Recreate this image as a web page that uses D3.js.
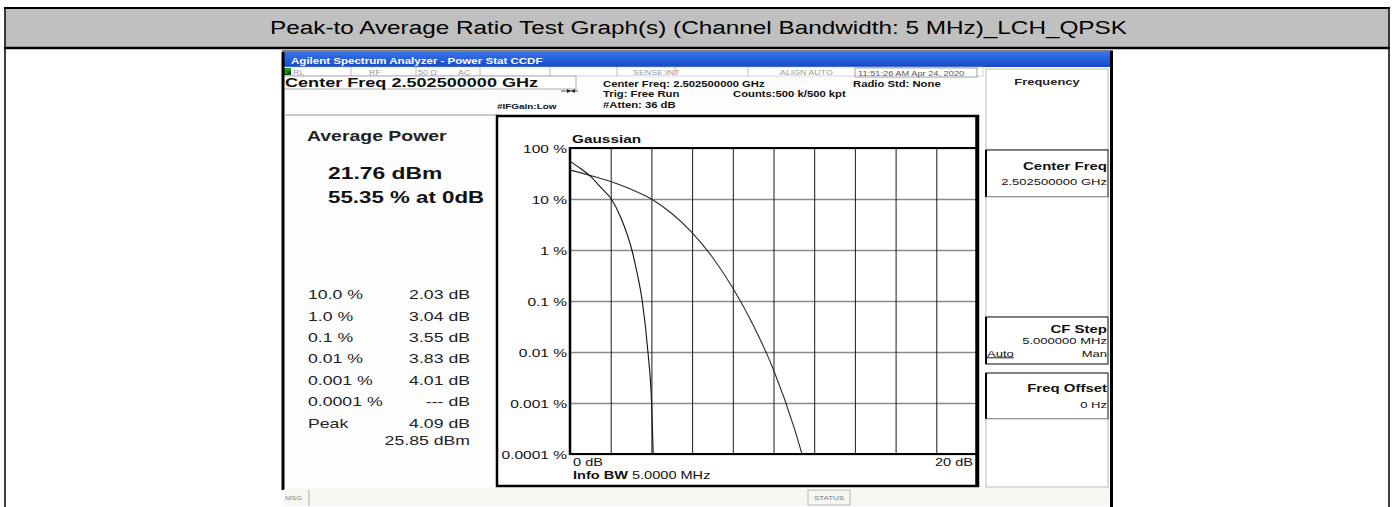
<!DOCTYPE html>
<html>
<head>
<meta charset="utf-8">
<script src="https://cdn.jsdelivr.net/npm/d3@7/dist/d3.min.js"></script>
<style>
html,body{margin:0;padding:0;background:#fff;}
svg{display:block;font-family:"Liberation Sans",Arial,sans-serif;}
</style>
</head>
<body>
<svg id="chart" width="1394" height="507"></svg>
<script>
// ---------------- data ----------------
const pageTitle = "Peak-to Average Ratio Test Graph(s) (Channel Bandwidth: 5 MHz)_LCH_QPSK";
const yTickValues = [100, 10, 1, 0.1, 0.01, 0.001, 0.0001];
const yTickLabels = ["100 %", "10 %", "1 %", "0.1 %", "0.01 %", "0.001 %", "0.0001 %"];
const xGridValues = [2, 4, 6, 8, 10, 12, 14, 16, 18];
const xDomain = [0, 20];
const yDomain = [0.0001, 100];
// measured CCDF trace (dB above average, % probability)
const measuredDb  = [0, 0.5, 1, 1.5, 2.03, 2.5, 3.04, 3.3, 3.55, 3.83, 4.01, 4.09];
const measuredPct = [55.35, 40, 28, 17, 10, 4.3, 1, 0.35, 0.1, 0.01, 0.001, 0.0001];
// Gaussian reference trace
const gaussDb  = [0, 1, 2, 3, 4, 5, 6, 7, 8, 9, 10, 11, 11.4];
const gaussPct = [36.8, 29, 22, 15.5, 10, 5.2, 2.2, 0.72, 0.18, 0.034, 0.0045, 0.00034, 0.0001];
// result table
const statLabels = ["10.0 %", "1.0 %", "0.1 %", "0.01 %", "0.001 %", "0.0001 %", "Peak"];
const statValues = ["2.03 dB", "3.04 dB", "3.55 dB", "3.83 dB", "4.01 dB", "--- dB", "4.09 dB"];
const peakPower = "25.85 dBm";
const avgPower = "21.76 dBm";
const atZero = "55.35 % at 0dB";
// status bar items
const statusItems = ["RL", "RF", "50 Ω", "AC", "SENSE:INT", "ALIGN AUTO"];
const timeStamp = "11:51:26 AM Apr 24, 2020";

// ---------------- drawing ----------------
const svg = d3.select("#chart");
const SX = 1.36; // horizontal stretch of the analyzer screenshot
function T(g, x, y, s, o) {
  o = o || {};
  const t = g.append("text")
    .attr("transform", `translate(${x},${y}) scale(${o.sx || SX},1)`)
    .attr("font-size", o.size || 10)
    .attr("font-weight", o.weight || "normal")
    .attr("text-anchor", o.anchor || "start")
    .attr("fill", o.fill || "#000")
    .text(s);
  if (o.underline) t.attr("text-decoration", "underline");
  return t;
}

// page table
svg.append("rect").attr("x", 5).attr("y", 8).attr("width", 1384).attr("height", 39).attr("fill", "#c0c0c0");
svg.append("line").attr("x1", 4).attr("x2", 1390).attr("y1", 8).attr("y2", 8).attr("stroke", "#000").attr("stroke-width", 2);
svg.append("line").attr("x1", 4).attr("x2", 1390).attr("y1", 48).attr("y2", 48).attr("stroke", "#000").attr("stroke-width", 2.5);
svg.append("line").attr("x1", 5).attr("x2", 5).attr("y1", 8).attr("y2", 507).attr("stroke", "#000").attr("stroke-width", 1.5);
svg.append("line").attr("x1", 1389).attr("x2", 1389).attr("y1", 8).attr("y2", 507).attr("stroke", "#000").attr("stroke-width", 1.5);
svg.append("text").attr("x", 270).attr("y", 34).attr("font-size", 18)
  .attr("textLength", 857).attr("lengthAdjust", "spacingAndGlyphs").text(pageTitle);

// screenshot background
const scr = svg.append("g");
scr.append("rect").attr("x", 282).attr("y", 51).attr("width", 830).attr("height", 456).attr("fill", "#fdfdfd");
scr.append("line").attr("x1", 282).attr("x2", 1113).attr("y1", 51).attr("y2", 51).attr("stroke", "#000").attr("stroke-width", 1);

// title bar
const grad = svg.append("defs").append("linearGradient").attr("id", "tb").attr("x1", 0).attr("x2", 0).attr("y1", 0).attr("y2", 1);
grad.append("stop").attr("offset", "0%").attr("stop-color", "#3a74ea");
grad.append("stop").attr("offset", "100%").attr("stop-color", "#1448c8");
scr.append("rect").attr("x", 282).attr("y", 52).attr("width", 831).attr("height", 15).attr("fill", "url(#tb)");
T(scr, 291, 64, "Agilent Spectrum Analyzer - Power Stat CCDF", {size: 8.5, weight: "bold", fill: "#fff"});

// status row
scr.append("rect").attr("x", 283).attr("y", 67).attr("width", 700).attr("height", 9).attr("fill", "#fff").attr("stroke", "#bbb").attr("stroke-width", 0.6);
scr.append("rect").attr("x", 283).attr("y", 68).attr("width", 8).attr("height", 7).attr("fill", "#1f9a1f");
T(scr, 284, 74.5, "LXI", {size: 4.5, weight: "bold", fill: "#000", sx: 1});
const statusX = [293, 369, 418, 458, 633, 780];
statusItems.forEach((s, i) => T(scr, statusX[i], 74.5, s, {size: 6.5, fill: "#9a9a9a"}));
[351, 416, 480, 550, 617, 675, 748].forEach(xx =>
  scr.append("line").attr("x1", xx).attr("x2", xx).attr("y1", 67).attr("y2", 76).attr("stroke", "#aaa").attr("stroke-width", 0.8));
scr.append("rect").attr("x", 855).attr("y", 68).attr("width", 122).attr("height", 9).attr("fill", "#fff").attr("stroke", "#888").attr("stroke-width", 0.8);
T(scr, 858, 75.5, timeStamp, {size: 6.8, fill: "#555"});

// center freq box & settings text
scr.append("rect").attr("x", 283).attr("y", 76).attr("width", 293).attr("height", 13).attr("fill", "#fff").attr("stroke", "#999").attr("stroke-width", 0.8);
T(scr, 285, 87, "Center Freq 2.502500000 GHz", {size: 13.3, weight: "bold", fill: "#111"});
T(scr, 603, 87, "Center Freq: 2.502500000 GHz", {size: 8.3, weight: "bold", fill: "#111"});
T(scr, 603, 97, "Trig: Free Run", {size: 8.3, weight: "bold", fill: "#111"});
T(scr, 733, 97, "Counts:500 k/500 kpt", {size: 8.3, weight: "bold", fill: "#111"});
T(scr, 853, 87, "Radio Std: None", {size: 8.3, weight: "bold", fill: "#111"});
T(scr, 603, 108, "#Atten: 36 dB", {size: 8.3, weight: "bold", fill: "#111"});
T(scr, 497, 109, "#IFGain:Low", {size: 7.3, weight: "bold", fill: "#111"});
// input arrow
scr.append("line").attr("x1", 561).attr("x2", 578).attr("y1", 91).attr("y2", 91).attr("stroke", "#222").attr("stroke-width", 0.8);
scr.append("path").attr("d", "M567,89 L571,91 L567,93 Z M575,89 L571,91 L575,93 Z").attr("fill", "#222");

// left panel
scr.append("line").attr("x1", 283).attr("x2", 283).attr("y1", 52).attr("y2", 490).attr("stroke", "#000").attr("stroke-width", 3);
scr.append("line").attr("x1", 284).attr("x2", 497).attr("y1", 115).attr("y2", 115).attr("stroke", "#999").attr("stroke-width", 1);
T(scr, 307, 141, "Average Power", {size: 14.3, weight: "bold", fill: "#222"});
T(scr, 328, 179, avgPower, {size: 16.8, weight: "bold", fill: "#111"});
T(scr, 328, 203, atZero, {size: 16.4, weight: "bold", fill: "#111"});
const rowY = [299, 320.5, 342, 363.3, 384.6, 406, 428];
statLabels.forEach((s, i) => T(scr, 308, rowY[i], s, {size: 13, fill: "#222"}));
statValues.forEach((s, i) => T(scr, 470, rowY[i], s, {size: 13, fill: "#222", anchor: "end"}));
T(scr, 470, 445, peakPower, {size: 13, fill: "#222", anchor: "end"});

// plot frame
scr.append("rect").attr("x", 497).attr("y", 116).attr("width", 481).attr("height", 370)
  .attr("fill", "#fff").attr("stroke", "#000").attr("stroke-width", 2.5);

// scales
const x = d3.scaleLinear().domain(xDomain).range([570, 977]);
const y = d3.scaleLog().domain(yDomain).range([454, 148]);
const W = 977 - 570, H = 454 - 148;

// horizontal grid + y labels
const gy = scr.append("g").attr("transform", "translate(570,0)")
  .call(d3.axisLeft(y).tickValues(yTickValues).tickFormat((d, i) => yTickLabels[i])
        .tickSize(-W).tickPadding(3 / SX));
gy.select(".domain").remove();
gy.selectAll(".tick line").attr("stroke", "#8a8a8a").attr("stroke-width", 1.4);
gy.selectAll(".tick text").attr("font-family", "Liberation Sans, Arial, sans-serif")
  .attr("font-size", 11.4).attr("fill", "#111").attr("dy", "0.36em")
  .attr("transform", `scale(${SX},1)`);

// vertical grid
const gx = scr.append("g").attr("transform", "translate(0,454)")
  .call(d3.axisBottom(x).tickValues(xGridValues).tickSize(-H).tickFormat(""));
gx.select(".domain").remove();
gx.selectAll(".tick line").attr("stroke", "#1a1a1a").attr("stroke-width", 1);

// plot borders
scr.append("line").attr("x1", 569).attr("x2", 978).attr("y1", 148).attr("y2", 148).attr("stroke", "#000").attr("stroke-width", 2);
scr.append("line").attr("x1", 569).attr("x2", 978).attr("y1", 454).attr("y2", 454).attr("stroke", "#000").attr("stroke-width", 2);
scr.append("line").attr("x1", 570).attr("x2", 570).attr("y1", 147).attr("y2", 455).attr("stroke", "#000").attr("stroke-width", 2.5);
scr.append("line").attr("x1", 977).attr("x2", 977).attr("y1", 116).attr("y2", 486).attr("stroke", "#000").attr("stroke-width", 3.5);

// traces
const line = d3.line().x(d => x(d[0])).y(d => y(d[1])).curve(d3.curveMonotoneX);
scr.append("path").datum(gaussDb.map((d, i) => [d, gaussPct[i]]))
  .attr("d", line).attr("fill", "none").attr("stroke", "#2a2a2a").attr("stroke-width", 1.1);
scr.append("path").datum(measuredDb.map((d, i) => [d, measuredPct[i]]))
  .attr("d", line).attr("fill", "none").attr("stroke", "#111").attr("stroke-width", 1.1);

// plot texts
T(scr, 572, 143, "Gaussian", {size: 11.3, weight: "bold", fill: "#111"});
T(scr, 573, 466, "0 dB", {size: 10.7, fill: "#111"});
T(scr, 973, 466, "20 dB", {size: 10.7, fill: "#111", anchor: "end"});
const info = T(scr, 573, 478.5, "", {size: 10.7, fill: "#111"});
info.append("tspan").attr("font-weight", "bold").text("Info BW");
info.append("tspan").text(" 5.0000 MHz");

// right softkey panel
const keys = [
  {y0: 69, y1: 150, strong: false},
  {y0: 150, y1: 197, strong: true},
  {y0: 197, y1: 317, strong: false},
  {y0: 317, y1: 364, strong: true},
  {y0: 373, y1: 419, strong: true},
  {y0: 419, y1: 487, strong: false}
];
keys.forEach(k => {
  scr.append("rect").attr("x", 986).attr("y", k.y0).attr("width", 122).attr("height", k.y1 - k.y0)
    .attr("fill", "#fff").attr("stroke", k.strong ? "#333" : "#aaa").attr("stroke-width", k.strong ? 1.2 : 0.8);
  if (k.strong) scr.append("line").attr("x1", 986).attr("x2", 986).attr("y1", k.y0).attr("y2", k.y1).attr("stroke", "#000").attr("stroke-width", 2);
});
T(scr, 1047, 85, "Frequency", {size: 9.5, weight: "bold", fill: "#222", anchor: "middle"});
T(scr, 1107, 170, "Center Freq", {size: 11, weight: "bold", fill: "#111", anchor: "end"});
T(scr, 1107, 185, "2.502500000 GHz", {size: 9.6, fill: "#111", anchor: "end"});
T(scr, 1107, 333, "CF Step", {size: 11, weight: "bold", fill: "#111", anchor: "end"});
T(scr, 1107, 344, "5.000000 MHz", {size: 9.6, fill: "#111", anchor: "end"});
T(scr, 987, 356.5, "Auto", {size: 9.6, fill: "#111", underline: true});
T(scr, 1107, 356.5, "Man", {size: 9.6, fill: "#111", anchor: "end"});
T(scr, 1107, 392, "Freq Offset", {size: 11, weight: "bold", fill: "#111", anchor: "end"});
T(scr, 1107, 408, "0 Hz", {size: 9.6, fill: "#111", anchor: "end"});
scr.append("line").attr("x1", 1111.5).attr("x2", 1111.5).attr("y1", 51).attr("y2", 507).attr("stroke", "#000").attr("stroke-width", 3);

// bottom message bar
scr.append("rect").attr("x", 284).attr("y", 489).attr("width", 826).attr("height", 17).attr("fill", "#f6f6f2");
scr.append("line").attr("x1", 309).attr("x2", 309).attr("y1", 490).attr("y2", 506).attr("stroke", "#aaa");
T(scr, 285, 500, "MSG", {size: 5.5, fill: "#888"});
scr.append("rect").attr("x", 808).attr("y", 490).attr("width", 42).attr("height", 15).attr("fill", "none").attr("stroke", "#aaa").attr("stroke-width", 0.8);
T(scr, 829, 500, "STATUS", {size: 5.8, fill: "#777", anchor: "middle"});
</script>
</body>
</html>
